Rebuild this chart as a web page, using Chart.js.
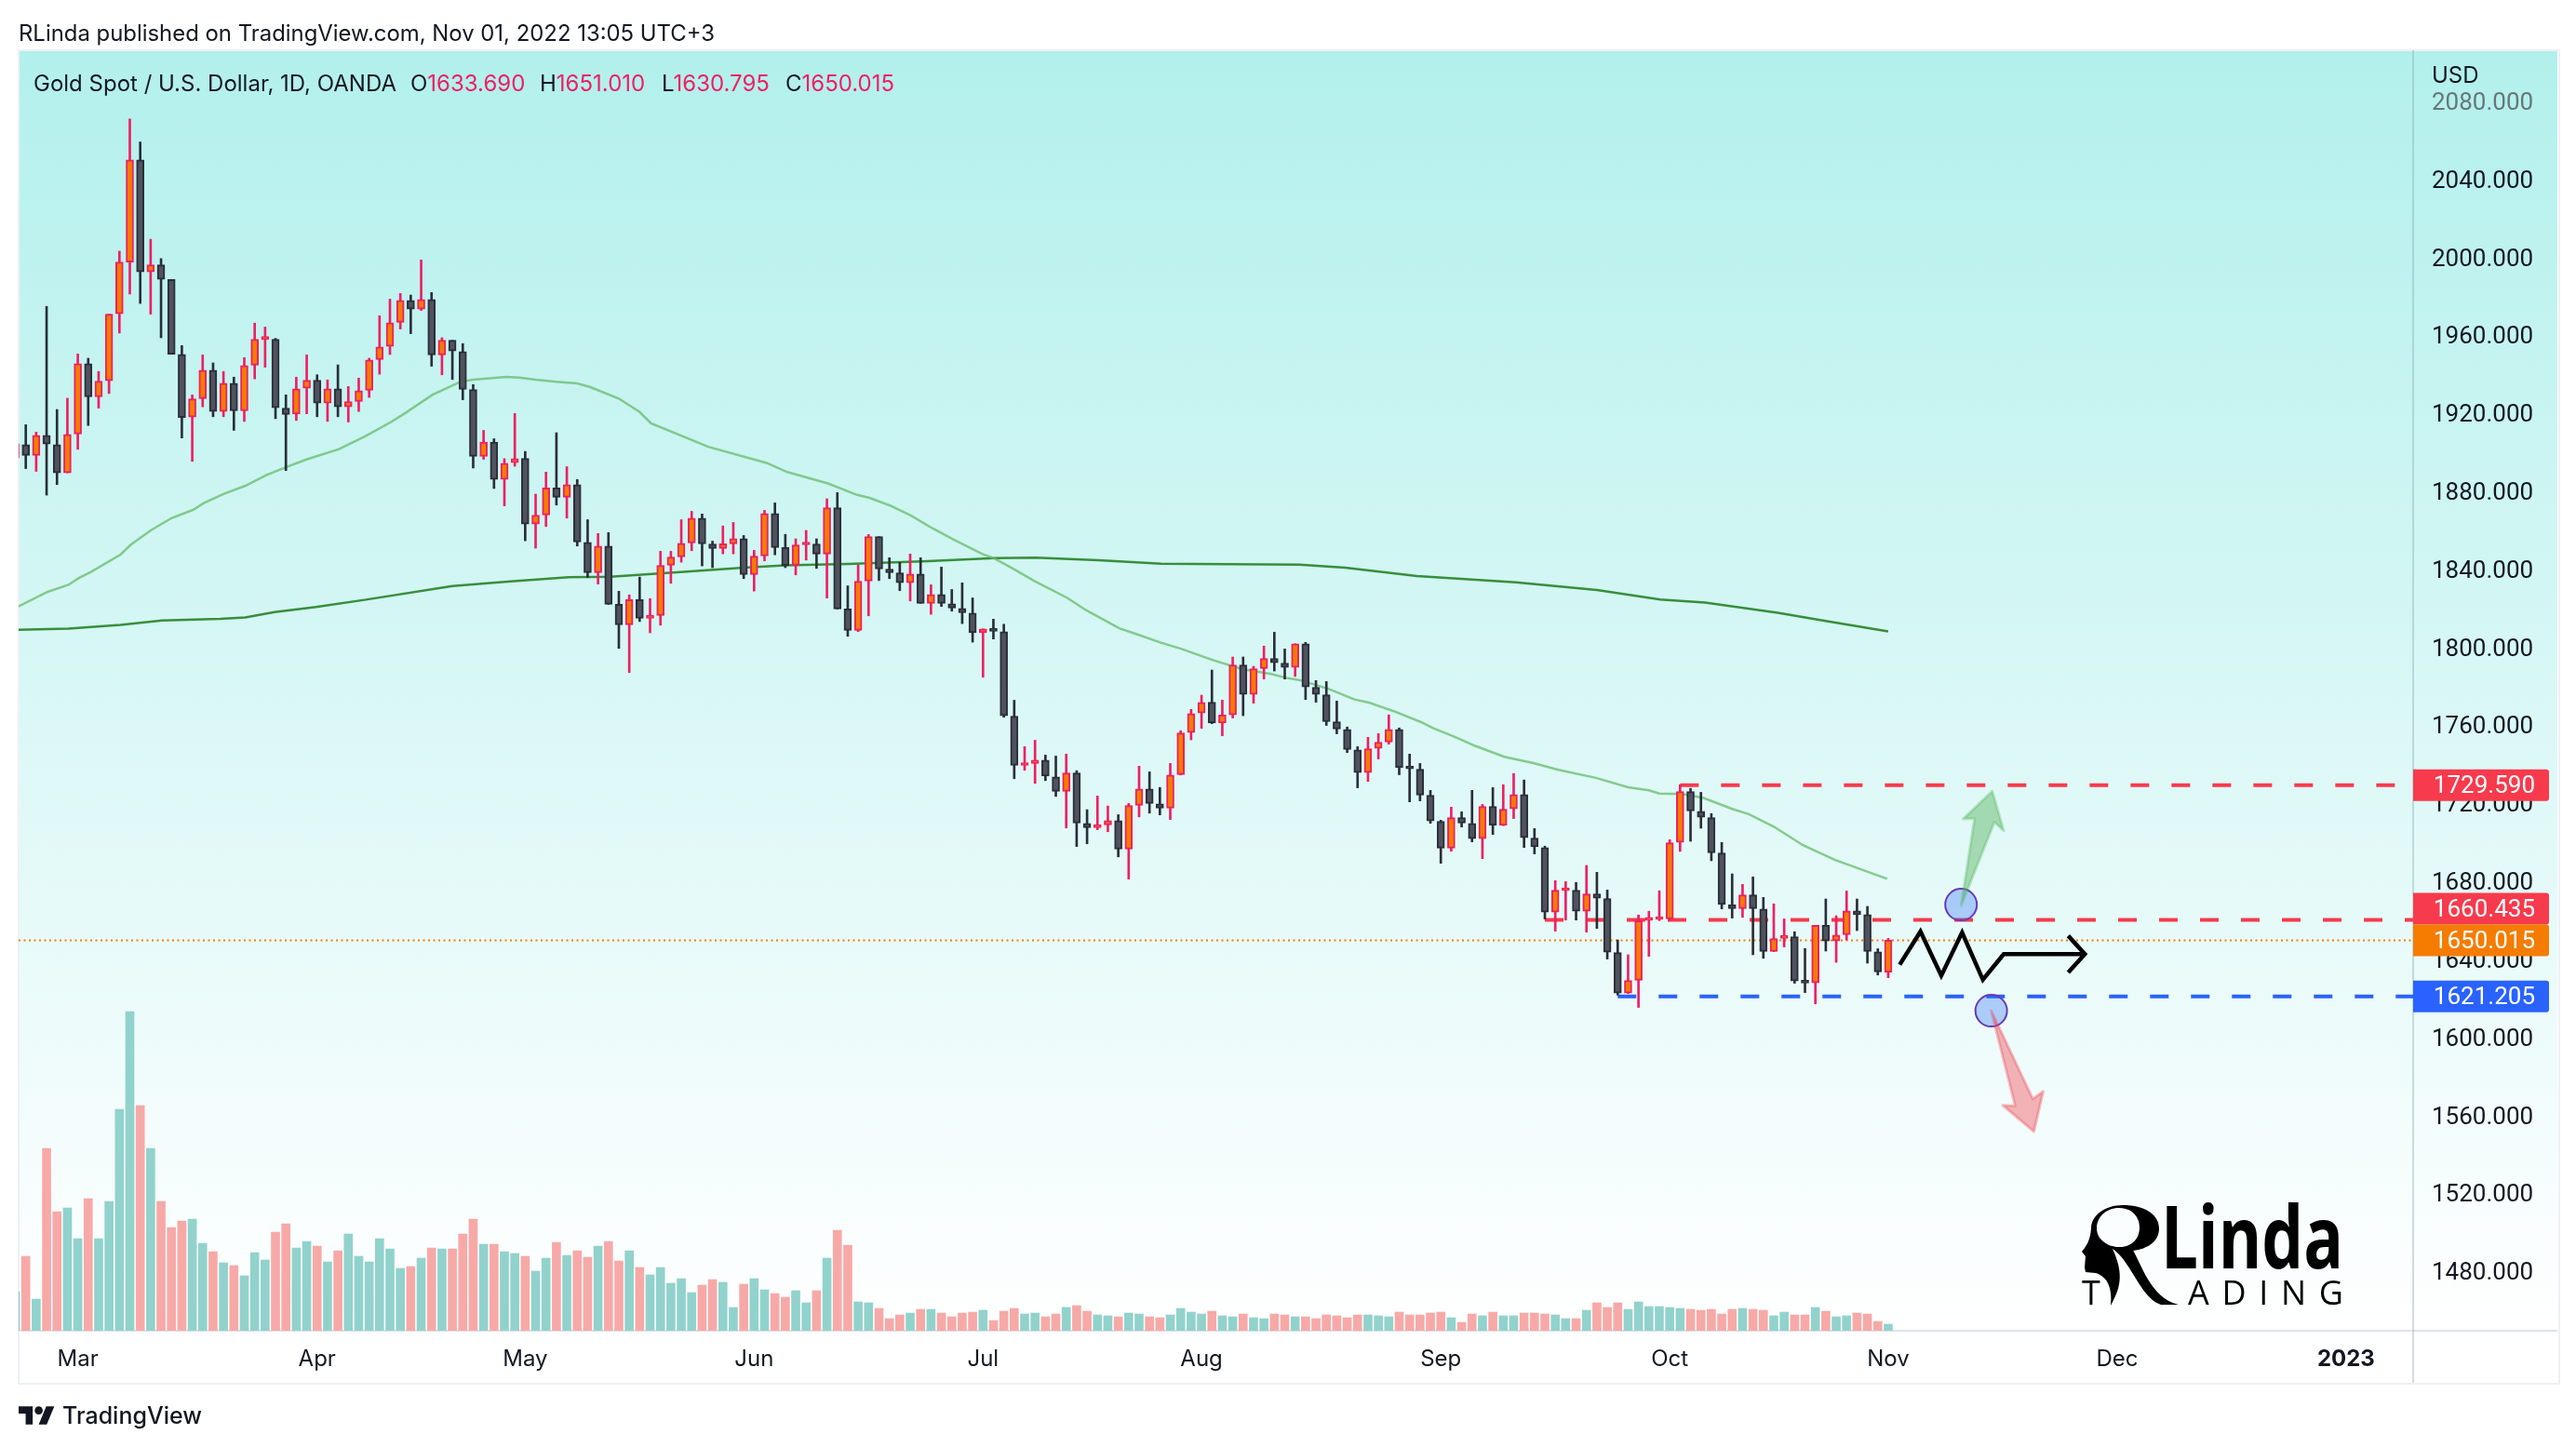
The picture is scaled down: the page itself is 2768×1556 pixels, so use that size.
<!DOCTYPE html>
<html>
<head>
<meta charset="utf-8">
<title>Gold Spot / U.S. Dollar</title>
<script src="https://cdn.jsdelivr.net/npm/chart.js@4"></script>
<style>
  html, body { margin: 0; padding: 0; background: #fff; }
  body { position: relative; width: 2768px; height: 1556px; overflow: hidden;
         font-family: Inter, Roboto, sans-serif; color: #131722; }
  #pane { position: absolute; left: 20px; top: 54px; width: 2728px; height: 1376px;
          background: linear-gradient(to bottom, #b2f0ec 0%, #ffffff 100%); }
  #frame { position: absolute; left: 19px; top: 53px; width: 2728px; height: 1431px;
           border: 2px solid #eef0f6; }
  #vline { position: absolute; left: 2592px; top: 54px; width: 2px; height: 1432px; background: rgba(120,160,165,.35); }
  #hline { position: absolute; left: 20px; top: 1429px; width: 2728px; height: 2px; background: #e0e3eb; }
  canvas { position: absolute; left: 0; top: 0; }
  .t { position: absolute; white-space: pre; font-size: 24px; line-height: 30px; }
  .pink { color: #ee1f63; }
  #logo { position: absolute; left: 0; top: 0; }
</style>
</head>
<body>
<div id="pane"></div>
<div id="frame"></div>
<div id="hline"></div>
<div id="vline"></div>
<canvas id="c" width="2768" height="1556"></canvas>

<div class="t" style="left:20px;top:21px;font-size:23.9px">RLinda published on TradingView.com, Nov 01, 2022 13:05 UTC+3</div>
<div class="t" style="left:36px;top:75px">Gold Spot / U.S. Dollar, 1D, OANDA</div>
<div class="t" style="left:441px;top:75px">O<span class="pink">1633.690</span></div>
<div class="t" style="left:580px;top:75px">H<span class="pink">1651.010</span></div>
<div class="t" style="left:711px;top:75px">L<span class="pink">1630.795</span></div>
<div class="t" style="left:844px;top:75px">C<span class="pink">1650.015</span></div>
<div class="t" style="left:2613px;top:66px">USD</div>
<div class="t" style="left:67px;top:1504px;font-size:25px;font-weight:500;line-height:34px">TradingView</div>

<svg id="logo" width="2768" height="1556" viewBox="0 0 2768 1556">
  <!-- TradingView mark -->
  <g transform="translate(20,1507) scale(1.08)" fill="#131722">
    <path d="M14 22H7V11H0V4h14v18zM28 22h-8l7.5-18h8L28 22z"/>
    <circle cx="20" cy="8" r="4"/>
  </g>
  <!-- RLinda watermark -->
  <g fill="#000">
    <path fill-rule="evenodd" d="M2281 1295c24 0 39 10 39 25c0 14-12 22-28 24l-22-2c-14-4-23-11-23-22c0-14 15-25 34-25zM2277 1298c-14 0-24 10-24 22c0 11 10 20 24 20c14 0 22-9 22-21c0-12-9-21-22-21z"/>
    <path d="M2247 1320c-1 14-6 20-10 25l4 5-1 12 1 5 11 1c13 4 18 17 16 35 10-18 15-33 2-61-10-8-18-14-23-22z"/>
    <path d="M2270 1342l20-2c10 15 20 55 51 62h-19c-22-7-32-47-52-60z"/>
    <text x="2322" y="1363" font-family="Open Sans" font-weight="700" font-size="94" textLength="196" lengthAdjust="spacingAndGlyphs">Linda</text>
    <text x="2237" y="1402" font-family="Open Sans" font-size="36">T</text>
    <text x="2351" y="1402" font-family="Open Sans" font-size="36" textLength="167">ADING</text>
  </g>
</svg>

<script>
// candles, first entry is the sliver cut off by the left edge of the pane
var opens = [1897.3,1904.2,1898.7,1908.9,1904.2,1889.7,1909.6,1945.7,1928.7,1936.9,1971.3,1997.8,2050.2,1992.8,1996.4,1988.9,1950.5,1918.3,1927.7,1942.3,1921.2,1935.7,1921.5,1944.9,1958.2,1958.2,1922.9,1919.9,1933.1,1937.2,1925.5,1932.8,1923.6,1926.3,1932.1,1947.8,1954.6,1966.9,1978.1,1973.7,1978.6,1950.2,1957.7,1951.9,1932.5,1898.2,1905.5,1886.3,1895.0,1897.1,1863.4,1868.1,1882.0,1877.2,1883.7,1854.1,1838.5,1852.2,1822.3,1811.8,1824.7,1815.1,1816.6,1842.3,1846.6,1853.8,1866.5,1853.2,1850.9,1853.3,1856.0,1837.6,1847.1,1868.9,1851.4,1842.3,1852.8,1853.2,1848.1,1871.8,1819.9,1808.9,1834.2,1857.0,1840.4,1838.4,1833.4,1837.9,1822.8,1827.4,1822.6,1820.2,1817.8,1807.7,1809.7,1808.3,1764.9,1739.7,1740.7,1742.4,1733.8,1726.4,1735.8,1710.0,1707.8,1709.2,1711.4,1696.8,1719.2,1727.6,1720.0,1717.8,1735.0,1756.6,1766.6,1772.1,1761.4,1765.6,1791.2,1776.1,1789.4,1794.5,1792.1,1789.9,1802.1,1779.7,1775.9,1762.1,1758.2,1747.7,1736.0,1748.4,1751.7,1758.2,1738.4,1737.7,1724.4,1711.0,1697.3,1712.9,1710.0,1702.2,1718.6,1709.0,1717.4,1724.8,1702.4,1697.6,1664.5,1675.5,1675.7,1664.9,1673.8,1671.4,1643.7,1622.9,1629.5,1660.3,1660.7,1661.0,1700.2,1726.3,1716.2,1712.9,1694.8,1668.2,1666.3,1673.3,1666.1,1644.3,1651.0,1651.8,1628.9,1628.2,1657.7,1649.6,1652.9,1665.1,1663.2,1644.1,1633.69];
var highs = [1904.7,1914.4,1910.6,1975.1,1922.2,1928.0,1950.7,1948.5,1941.7,1971.1,2003.4,2071.2,2059.4,2009.5,1999.6,1988.9,1955.0,1929.7,1950.2,1946.1,1941.7,1938.8,1948.8,1966.5,1964.5,1958.7,1929.7,1938.8,1950.2,1940.0,1937.4,1945.1,1934.0,1938.3,1948.5,1970.3,1978.8,1981.7,1980.9,1998.9,1982.2,1959.0,1957.7,1956.0,1935.0,1911.5,1907.2,1897.0,1920.2,1900.7,1878.8,1890.1,1910.3,1892.9,1886.3,1865.7,1858.6,1859.1,1829.0,1827.1,1836.3,1825.2,1849.5,1849.5,1865.7,1870.0,1868.6,1854.7,1862.5,1864.3,1857.6,1850.0,1870.5,1874.3,1858.2,1855.9,1860.2,1855.9,1876.4,1879.6,1831.8,1842.5,1858.1,1857.0,1846.2,1843.8,1848.1,1846.2,1832.3,1841.4,1829.9,1833.3,1825.6,1809.7,1814.7,1812.1,1773.1,1749.3,1752.6,1745.0,1744.5,1745.5,1737.0,1717.0,1724.0,1718.9,1714.4,1720.2,1739.3,1736.4,1728.4,1740.7,1757.5,1768.4,1775.7,1788.6,1773.2,1795.3,1795.3,1790.5,1800.9,1808.0,1799.4,1802.1,1802.8,1783.2,1782.7,1772.7,1759.4,1749.3,1754.1,1756.0,1765.6,1758.9,1745.5,1740.7,1726.9,1711.6,1718.3,1715.9,1726.9,1719.7,1728.3,1729.8,1735.5,1732.2,1707.3,1698.3,1680.6,1680.1,1679.7,1688.4,1684.9,1675.8,1650.2,1642.6,1663.0,1664.9,1675.4,1701.6,1729.8,1727.9,1725.9,1715.0,1700.2,1684.1,1678.7,1682.5,1672.0,1668.7,1661.0,1654.4,1645.8,1657.7,1671.2,1662.6,1675.3,1671.2,1667.4,1645.7,1651.01];
var lows = [1897.3,1891.9,1890.5,1878.3,1883.7,1889.7,1901.8,1914.0,1922.9,1930.4,1961.4,1981.4,1976.6,1971.1,1959.0,1950.5,1907.6,1895.6,1923.6,1918.5,1918.5,1911.5,1916.1,1937.9,1943.9,1917.5,1890.9,1916.6,1920.0,1918.5,1916.1,1918.5,1915.8,1921.2,1928.4,1940.3,1950.4,1963.5,1961.1,1973.0,1944.4,1940.0,1937.6,1927.2,1892.2,1896.7,1881.7,1872.8,1893.1,1854.9,1851.1,1862.2,1873.2,1866.5,1852.2,1836.0,1832.7,1822.3,1799.7,1787.3,1813.5,1807.7,1811.6,1833.1,1843.9,1849.8,1842.0,1841.1,1848.2,1848.2,1835.5,1829.1,1844.6,1847.7,1841.1,1837.4,1845.0,1840.7,1825.5,1819.9,1805.9,1808.3,1816.4,1834.5,1835.5,1829.3,1824.0,1822.8,1817.2,1821.2,1818.8,1812.4,1802.9,1784.9,1804.5,1764.4,1732.9,1737.2,1730.5,1731.9,1723.8,1707.6,1698.1,1699.5,1706.7,1705.7,1692.8,1681.4,1713.3,1715.2,1714.3,1711.9,1734.8,1752.8,1758.7,1761.1,1754.9,1764.0,1765.2,1771.6,1784.0,1788.1,1784.0,1785.3,1773.5,1772.1,1760.2,1755.9,1746.3,1728.2,1731.5,1743.0,1750.6,1734.9,1721.0,1721.5,1710.0,1689.5,1695.7,1708.1,1700.5,1691.9,1704.3,1708.8,1712.4,1697.6,1694.3,1660.9,1654.7,1660.4,1660.4,1654.2,1656.1,1640.4,1621.9,1622.7,1615.6,1641.8,1660.1,1660.1,1695.6,1700.8,1707.5,1690.8,1666.1,1661.4,1661.8,1642.6,1640.8,1644.2,1646.6,1628.0,1623.2,1617.4,1644.5,1638.7,1650.2,1655.0,1638.3,1632.2,1630.795];
var closes = [1904.7,1898.7,1908.9,1904.5,1889.7,1909.4,1945.7,1928.7,1936.7,1971.1,1997.8,2050.2,1992.8,1996.4,1988.9,1950.5,1918.1,1927.7,1942.3,1921.2,1935.7,1921.5,1944.7,1958.2,1958.7,1923.1,1919.7,1932.8,1937.2,1925.5,1932.8,1923.6,1926.3,1931.9,1947.6,1954.3,1966.7,1978.1,1973.7,1978.6,1950.2,1957.7,1952.2,1932.5,1898.2,1905.5,1886.3,1894.6,1897.0,1863.4,1868.0,1882.0,1877.2,1883.7,1854.3,1838.5,1852.2,1822.3,1811.8,1824.7,1815.1,1816.6,1842.2,1846.6,1853.6,1866.5,1853.3,1850.9,1853.3,1856.0,1837.6,1847.0,1868.9,1851.4,1842.2,1852.7,1853.3,1848.1,1871.8,1819.9,1808.9,1834.1,1857.0,1840.4,1838.5,1833.4,1837.9,1822.8,1827.4,1822.8,1820.4,1818.0,1807.7,1809.7,1808.5,1765.2,1739.7,1740.7,1742.4,1734.2,1726.4,1735.8,1710.1,1707.8,1709.0,1711.4,1696.8,1719.1,1727.6,1720.2,1717.8,1734.8,1756.3,1766.3,1772.0,1761.4,1765.6,1791.2,1776.1,1789.3,1794.5,1792.3,1789.9,1802.1,1779.9,1776.1,1762.2,1758.4,1747.9,1736.0,1748.2,1751.6,1758.2,1738.5,1737.9,1724.5,1711.2,1697.3,1712.9,1710.2,1702.1,1718.6,1709.0,1717.2,1724.8,1702.6,1698.0,1664.5,1675.7,1676.0,1664.9,1673.8,1671.6,1643.9,1622.9,1629.4,1660.1,1660.9,1661.2,1700.0,1726.3,1716.4,1713.1,1694.9,1668.4,1666.3,1673.3,1666.3,1644.3,1650.9,1651.8,1629.1,1628.1,1657.7,1649.6,1652.7,1665.1,1663.2,1644.3,1633.8,1650.015];
var volumes = [42,80,34,196,128,132,99,142,99,139,238,343,242,196,139,111,118,120,94,85,73,70,59,84,76,106,115,89,96,91,74,86,104,80,74,99,88,67,69,78,89,88,88,104,120,93,93,85,83,80,64,78,95,81,86,79,91,96,75,86,68,60,68,51,56,41,49,55,52,25,50,56,44,40,36,43,30,43,78,108,92,31,30,24,13,17,19,23,23,19,15,19,20,22,11,21,24,18,19,15,18,25,27,21,17,16,15,19,18,15,14,17,24,20,18,21,16,15,18,14,13,18,17,15,15,13,17,16,14,17,17,16,15,20,17,17,19,20,14,9,18,16,20,16,16,19,19,18,17,13,13,22,30,25,30,23,31,26,26,25,24,23,22,23,18,23,24,23,22,16,20,17,17,25,21,15,16,19,18,10,7];

// moving averages, read at the bar positions in slowIndex / fastIndex
var fastIndex = [-0.7,2.1,4.1,5.1,6.3,9.1,10.1,12,14,16.1,17.1,19.1,21.1,23.1,25.1,27.1,30.1,32.7,35.1,36.3,39.1,41.8,43,46.2,47.4,49,51,53,54.2,57,59,60.1,65.6,71.2,73.2,77.1,79.9,81.1,83.1,85.1,87.1,89.1,91.9,93.1,95.1,96.9,100.1,101.9,105.1,107.1,109.1,111.1,114.1,116.9,119.7,121.1,122.5,125.3,127.7,129.1,131.7,134.1,135.3,137.3,139.3,142.1,144.9,147.3,150.9,154,156,157,159.2,161.2,164,165.6,168,170.8,173.9,178.9];
var fastMA = [1821.2,1828.7,1832.3,1835.8,1839,1847.8,1852.9,1860.2,1866.5,1870.8,1874.2,1879.1,1883.1,1888.5,1892.8,1896.8,1901.9,1908.7,1915.8,1919.8,1929.8,1936.5,1937.5,1938.9,1938.6,1937.5,1936.4,1935.6,1933.8,1927.8,1920.9,1915.1,1903.1,1894.8,1890.1,1884.3,1878.4,1876.9,1872.9,1867.8,1861.4,1855.7,1848.2,1845.8,1840,1834.4,1825.6,1819.3,1810,1806.4,1802.6,1799.4,1793.7,1789.1,1786.6,1784.6,1783.4,1778.8,1773.5,1771.9,1767.1,1761.9,1758.7,1754.4,1749.7,1744.1,1740.9,1737.4,1733.3,1728.5,1726.9,1725.3,1725,1723.1,1717.4,1714.7,1708.3,1698.8,1691.2,1681.5];
var slowIndex = [-0.7,4.1,9.1,13.1,18.7,21.1,23.9,27.9,32.7,41,46.6,52.2,56.2,63.2,69,73,79.1,86.7,93.1,97.1,103.1,109.1,112,122.4,126.8,133.7,143.2,151,157.1,161.4,168.4,172.7,179];
var slowMA = [1809.3,1809.9,1811.7,1814,1814.8,1815.6,1818.3,1820.9,1824.7,1831.7,1834.1,1836.2,1836.5,1839,1841.1,1842.3,1843,1844.4,1846,1846.2,1844.9,1843.1,1843,1842.6,1841.1,1836.8,1833.6,1829.6,1824.8,1823.2,1818,1814,1808.4];

// axis labels
var priceTicks = [2080,2040,2000,1960,1920,1880,1840,1800,1760,1720,1680,1640,1600,1560,1520,1480];
var monthPos = [5,28,48,70,92,113,136,158,179,201,223];
var monthNames = ['Mar','Apr','May','Jun','Jul','Aug','Sep','Oct','Nov','Dec','2023'];

// horizontal levels and the bar each one starts from
var levelTop = 1729.59, levelMid = 1660.435, levelLow = 1621.205, lastPrice = 1650.015;
var levelTopStart = 159, levelMidStart = 146, levelLowStart = 153;

// drawn projection path
var zigIndex = [180.1,182.1,184.1,186.1,188.1,190.1,197.9,null,196.3,197.9,196.3];
var zigPrice = [1637.5,1654.5,1631.9,1654,1629.8,1642.9,1642.9,null,1652.3,1642.9,1633.5];
// the two arrows and the circles they leave from
var upArrowIndex = [186,187.3,186.2,189,190.1,189.2];
var upArrowPrice = [1667.7,1712.5,1712.2,1726.5,1706.2,1710.6];
var downArrowIndex = [188.9,191.2,190,193,193.9,192.9];
var downArrowPrice = [1613.9,1565.1,1565.4,1551.9,1572.6,1568.7];
var circleIndex = [186,188.9];
var circlePrice = [1668.3,1613.9];

var FONT = 'Inter, Roboto, sans-serif';
var NUM_FONT = 'Roboto, sans-serif';
var TEXT = '#131722';
var UP_BORDER = '#ee1f63', UP_FILL = '#f57c00';
var DOWN_BORDER = '#2a2e39', DOWN_FILL = '#50535e';
var VOL_UP = '#92d2cc', VOL_DOWN = '#f7a9a7';
var RED = '#f73a4c', BLUE = '#2962ff', ORANGE = '#f57c00';

var xMin = -0.689, xMax = 229.45;
var yMin = 1449.79, yMax = 2106.43;
var volMax = 1376;

function isUp(k) { return closes[k] >= opens[k]; }
function barX(k) { return k - 1; }
function pairs(xs, ys) { return xs.map(function (x, k) { return { x: x, y: ys[k] }; }); }
function level(start, val) { return [{ x: start, y: val }, { x: xMax, y: val }]; }

var bodyData = opens.map(function (o, k) { return { x: barX(k), y: [o, closes[k]] }; });
var wickData = lows.map(function (l, k) { return { x: barX(k), y: [l, highs[k]] }; });
var volData = volumes.map(function (v, k) { return { x: barX(k), y: v }; });
var upColor = function (a, b) { return opens.map(function (o, k) { return isUp(k) ? a : b; }); };

function levelLine(data, color, dash, order, width) {
  return { type: 'line', data: data, borderColor: color, borderWidth: width || 4, borderDash: dash,
           pointRadius: 0, fill: false, order: order, yAxisID: 'y' };
}

/* arrows are plain polygons in (bar, price) space */
var polygons = {
  id: 'polygons',
  afterDatasetsDraw: function (chart) {
    var ctx = chart.ctx, sx = chart.scales.x, sy = chart.scales.y;
    function poly(xs, ys, fill, stroke) {
      ctx.save();
      ctx.beginPath();
      xs.forEach(function (x, k) {
        var px = sx.getPixelForValue(x), py = sy.getPixelForValue(ys[k]);
        if (k === 0) ctx.moveTo(px, py); else ctx.lineTo(px, py);
      });
      ctx.closePath();
      ctx.fillStyle = fill; ctx.fill();
      ctx.strokeStyle = stroke; ctx.lineWidth = 3; ctx.lineJoin = 'round'; ctx.stroke();
      ctx.restore();
    }
    poly(upArrowIndex, upArrowPrice, 'rgba(76,175,80,.42)', 'rgba(76,175,80,.3)');
    poly(downArrowIndex, downArrowPrice, 'rgba(242,54,69,.38)', 'rgba(242,54,69,.3)');
  }
};

/* price tags on the right axis; mid level is pushed up off the last price tag */
var priceTags = {
  id: 'priceTags',
  afterDraw: function (chart) {
    var ctx = chart.ctx, sy = chart.scales.y, left = chart.chartArea.right, w = 146, h = 34;
    function tag(y, color, val) {
      ctx.save();
      ctx.fillStyle = color;
      ctx.beginPath();
      ctx.roundRect(left, y - h / 2, w, h, [0, 3, 3, 0]);
      ctx.fill();
      ctx.fillStyle = '#fff';
      ctx.font = '26px ' + NUM_FONT;
      ctx.textAlign = 'right';
      ctx.textBaseline = 'middle';
      ctx.fillText(val.toFixed(3), left + 131, y + 2);
      ctx.restore();
    }
    var yLast = sy.getPixelForValue(lastPrice);
    tag(sy.getPixelForValue(levelTop), RED, levelTop);
    tag(Math.min(sy.getPixelForValue(levelMid), yLast - h), RED, levelMid);
    tag(yLast, ORANGE, lastPrice);
    tag(sy.getPixelForValue(levelLow), BLUE, levelLow);
  }
};

new Chart(document.getElementById('c').getContext('2d'), {
  type: 'bar',
  plugins: [polygons, priceTags],
  data: {
    datasets: [
      { data: volData, yAxisID: 'vol', backgroundColor: upColor(VOL_UP, VOL_DOWN), barThickness: 9, grouped: false, order: 20 },
      levelLine(pairs(slowIndex, slowMA), '#388e3c', [], 12, 2.5),
      levelLine(pairs(fastIndex, fastMA), 'rgba(102,187,106,.75)', [], 11, 2.5),
      levelLine(level(xMin, lastPrice), ORANGE, [2, 3.5], 10, 2),
      levelLine(level(levelTopStart, levelTop), RED, [20, 24], 9),
      levelLine(level(levelMidStart, levelMid), RED, [20, 24], 9),
      levelLine(level(levelLowStart, levelLow), BLUE, [20, 24], 9),
      { data: wickData, yAxisID: 'y', backgroundColor: upColor(UP_BORDER, DOWN_BORDER), barThickness: 2, grouped: false, order: 6 },
      { data: bodyData, yAxisID: 'y', backgroundColor: upColor(UP_FILL, DOWN_FILL), borderColor: upColor(UP_BORDER, DOWN_BORDER),
        borderWidth: 2, borderSkipped: false, barThickness: 8, minBarLength: 3, grouped: false, order: 5 },
      levelLine(pairs(zigIndex, zigPrice), '#000', [], 3, 4.5),
      { type: 'scatter', data: pairs(circleIndex, circlePrice), yAxisID: 'y', pointRadius: 17, pointBackgroundColor: 'rgba(41,110,245,.33)',
        pointBorderColor: '#673ab7', pointBorderWidth: 2, order: 2 }
    ]
  },
  options: {
    responsive: false,
    animation: false,
    devicePixelRatio: 1,
    events: [],
    layout: { padding: { left: 20, top: 54, right: 20, bottom: 70 } },
    plugins: { legend: { display: false }, tooltip: { enabled: false } },
    scales: {
      x: {
        type: 'linear', min: xMin, max: xMax, offset: false,
        grid: { display: false }, border: { display: false },
        afterBuildTicks: function (s) { s.ticks = monthPos.map(function (v) { return { value: v }; }); },
        afterFit: function (s) { s.height = 56; },
        ticks: {
          autoSkip: false, maxRotation: 0, color: TEXT, padding: 8,
          font: function (c) { return { family: FONT, size: 24, weight: c.tick && c.tick.value === 223 ? '700' : '400' }; },
          callback: function (v) { var k = monthPos.indexOf(v); return k < 0 ? '' : monthNames[k]; }
        }
      },
      y: {
        position: 'right', min: yMin, max: yMax,
        grid: { display: false, drawTicks: false }, border: { display: false },
        afterBuildTicks: function (s) { s.ticks = priceTicks.map(function (v) { return { value: v }; }); },
        afterFit: function (s) { s.width = 155; },
        ticks: {
          autoSkip: false, padding: 20, labelOffset: 2, font: { family: NUM_FONT, size: 26 },
          color: function (c) { return c.tick && c.tick.value === 2080 ? '#66777a' : TEXT; },
          callback: function (v) { return v.toFixed(3); }
        }
      },
      vol: { display: false, min: 0, max: volMax }
    }
  }
});
</script>
</body>
</html>
